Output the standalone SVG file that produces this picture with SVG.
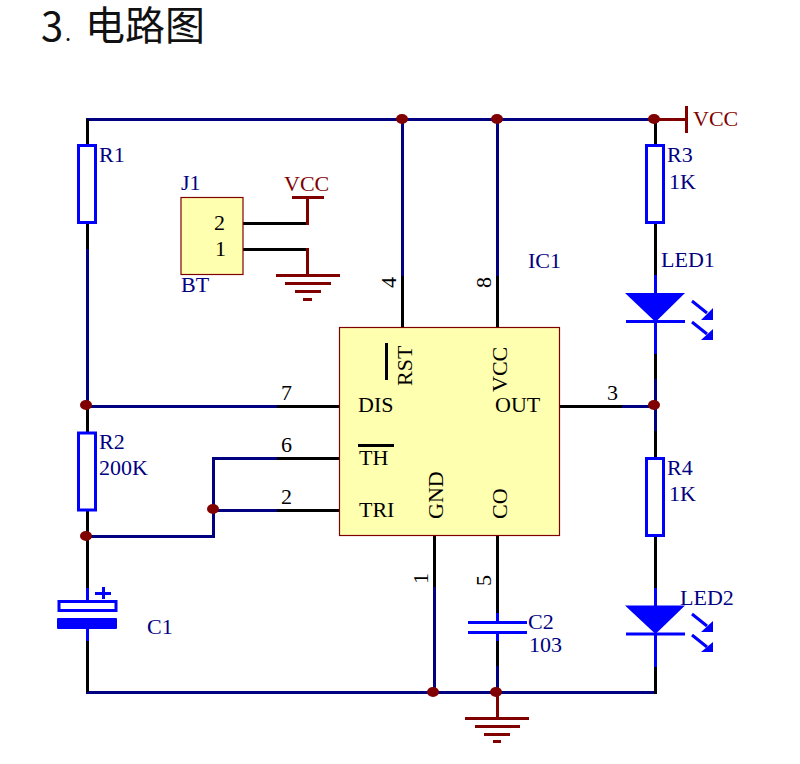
<svg xmlns="http://www.w3.org/2000/svg" width="800" height="764" viewBox="0 0 800 764">
<style>
text{font-family:"Liberation Serif","Times New Roman",serif;font-size:22px;fill:#000080}
.k{fill:#000}
.r{fill:#800000}
.title{font-family:"Noto Sans CJK SC","Noto Sans",sans-serif;font-size:40px;fill:#111}
.w,.p,.b,.d{fill:none;stroke-width:3;stroke-linecap:butt}
.w{stroke:#000080}
.p{stroke:#000}
.b{stroke:#0000ff}
.d{stroke:#800000}
.f{fill:#0000ff}
.chip{fill:#ffffb0;stroke:#800000;stroke-width:1.2}
.j{fill:#800000}
</style>
<rect width="800" height="764" fill="#fff"/>
<text class="title" x="41" y="41">3</text>
<text class="title" x="65" y="41" style="font-size:22px">.</text>
<text class="title" x="85" y="40">电路图</text>
<g id="connectors">
<path class="w" d="M86 119.500H657M402.500 119V276M497.500 119V276M87.500 249V406M87 406.500H277M655.500 379V431M86 536.500H213.500V458.500H277M213 510.500H277M86 692.500H657M434.500 587V692M497.500 666V692"/>
<path class="p" d="M87.500 119V145M87.500 223V249M87.500 406V432M87.500 510V589M87.500 641V692M402.500 276V327M497.500 276V327M277 406.500H339M277 458.500H339M277 510.500H339M560 406.500H622M434.500 536V587M497.500 536V614M497.500 641V666M655.500 119V145M655.500 223V276M655.500 354V379M655.500 431V458M655.500 536V589M655.500 667V694M243 223.500H308M243 249.500H308"/>
<path class="w" d="M622 406.500H655"/>
<path class="d" d="M655 119.500H686M307.500 198V225M307.500 248V276M497.500 692V718"/>
<g class="j">
<ellipse cx="402" cy="119" rx="6" ry="5"/><ellipse cx="497" cy="119" rx="6" ry="5"/><ellipse cx="654" cy="119" rx="6" ry="5"/>
<ellipse cx="86" cy="405" rx="6" ry="5"/><ellipse cx="86" cy="536" rx="6" ry="5"/><ellipse cx="213" cy="509" rx="6" ry="5"/>
<ellipse cx="654" cy="405" rx="6" ry="5"/><ellipse cx="433" cy="692" rx="6" ry="5"/><ellipse cx="496" cy="692" rx="6" ry="5"/>
</g>
</g>
<g id="R1"><rect class="b" x="78.500" y="145.500" width="17" height="77"/><text x="99" y="162">R1</text></g>
<g id="R2"><rect class="b" x="78.500" y="433" width="17" height="77"/><text x="99" y="449">R2</text><text x="99" y="475">200K</text></g>
<g id="R3"><rect class="b" x="646.500" y="145.500" width="17" height="77"/><text x="667" y="162">R3</text><text x="669" y="189">1K</text></g>
<g id="R4"><rect class="b" x="646.500" y="458.500" width="17" height="77"/><text x="667" y="475">R4</text><text x="669" y="501">1K</text></g>
<g id="C1">
<path class="b" d="M87.500 588V601M87.500 628V641M95 593.500H111M103.500 587V599"/>
<rect class="b" x="59" y="601.500" width="57" height="9"/>
<rect class="f" x="57" y="618" width="60" height="11" rx="1"/>
<text x="147" y="634">C1</text>
</g>
<g id="C2">
<path class="b" d="M497.500 613V622M497.500 632V641M468 622.500H527M468 632.500H527"/>
<text x="528" y="629">C2</text><text x="529" y="652">103</text>
</g>
<g id="J1">
<rect class="chip" x="181" y="197.500" width="62" height="77"/>
<text x="181" y="190">J1</text><text x="181" y="292">BT</text>
<text class="k" x="214" y="230">2</text><text class="k" x="215" y="256">1</text>
</g>
<g id="VCC1"><path class="d" d="M292 197.500H324"/><text class="r" x="284" y="191">VCC</text></g>
<g id="VCC2"><path class="d" d="M686.500 106V133"/><text class="r" x="693" y="126">VCC</text></g>
<g id="GND1"><path class="d" d="M276 275.500H340M285 283.500H331M295 291.500H321M303 299.500H312"/></g>
<g id="GND2"><path class="d" d="M465 718.500H529M475 726.500H520M484 734.500H510M493 741.500H501"/></g>
<g id="LED1">
<path class="b" d="M655.500 275V293M655.500 322V354M626 321.500H685M692 301L707 313M692 322L707 334"/>
<path class="f" d="M625 293H685L655.500 322Z"/>
<path class="f" d="M713 308V320H701ZM713 329V340H701Z"/>
<text x="661" y="267">LED1</text>
</g>
<g id="LED2">
<path class="b" d="M655.500 588V606M655.500 634V667M626 634H685M692 614L707 626M692 635L707 647"/>
<path class="f" d="M625 605.500H685L655.500 634Z"/>
<path class="f" d="M713 621V632H701ZM713 642V652H701Z"/>
<text x="680" y="605">LED2</text>
</g>
<g id="IC1">
<rect class="chip" x="339.500" y="327.500" width="220" height="208"/>
<path class="p" d="M386.500 343V380M358 445.500H394"/>
<text x="528" y="268">IC1</text>
<text class="k" x="358" y="412">DIS</text><text class="k" x="495" y="412">OUT</text><text class="k" x="359" y="465">TH</text><text class="k" x="359" y="517">TRI</text>
<text class="k" transform="translate(412 386) rotate(-90)">RST</text>
<text class="k" transform="translate(507 392) rotate(-90)">VCC</text>
<text class="k" transform="translate(443 519) rotate(-90)">GND</text>
<text class="k" transform="translate(507 519) rotate(-90)">CO</text>
<text class="k" transform="translate(396 288) rotate(-90)">4</text>
<text class="k" transform="translate(491 288) rotate(-90)">8</text>
<text class="k" transform="translate(428 584) rotate(-90)">1</text>
<text class="k" transform="translate(491 586) rotate(-90)">5</text>
<text class="k" x="281" y="400">7</text><text class="k" x="281" y="452">6</text><text class="k" x="281" y="504">2</text><text class="k" x="607" y="400">3</text>
</g>
</svg>
